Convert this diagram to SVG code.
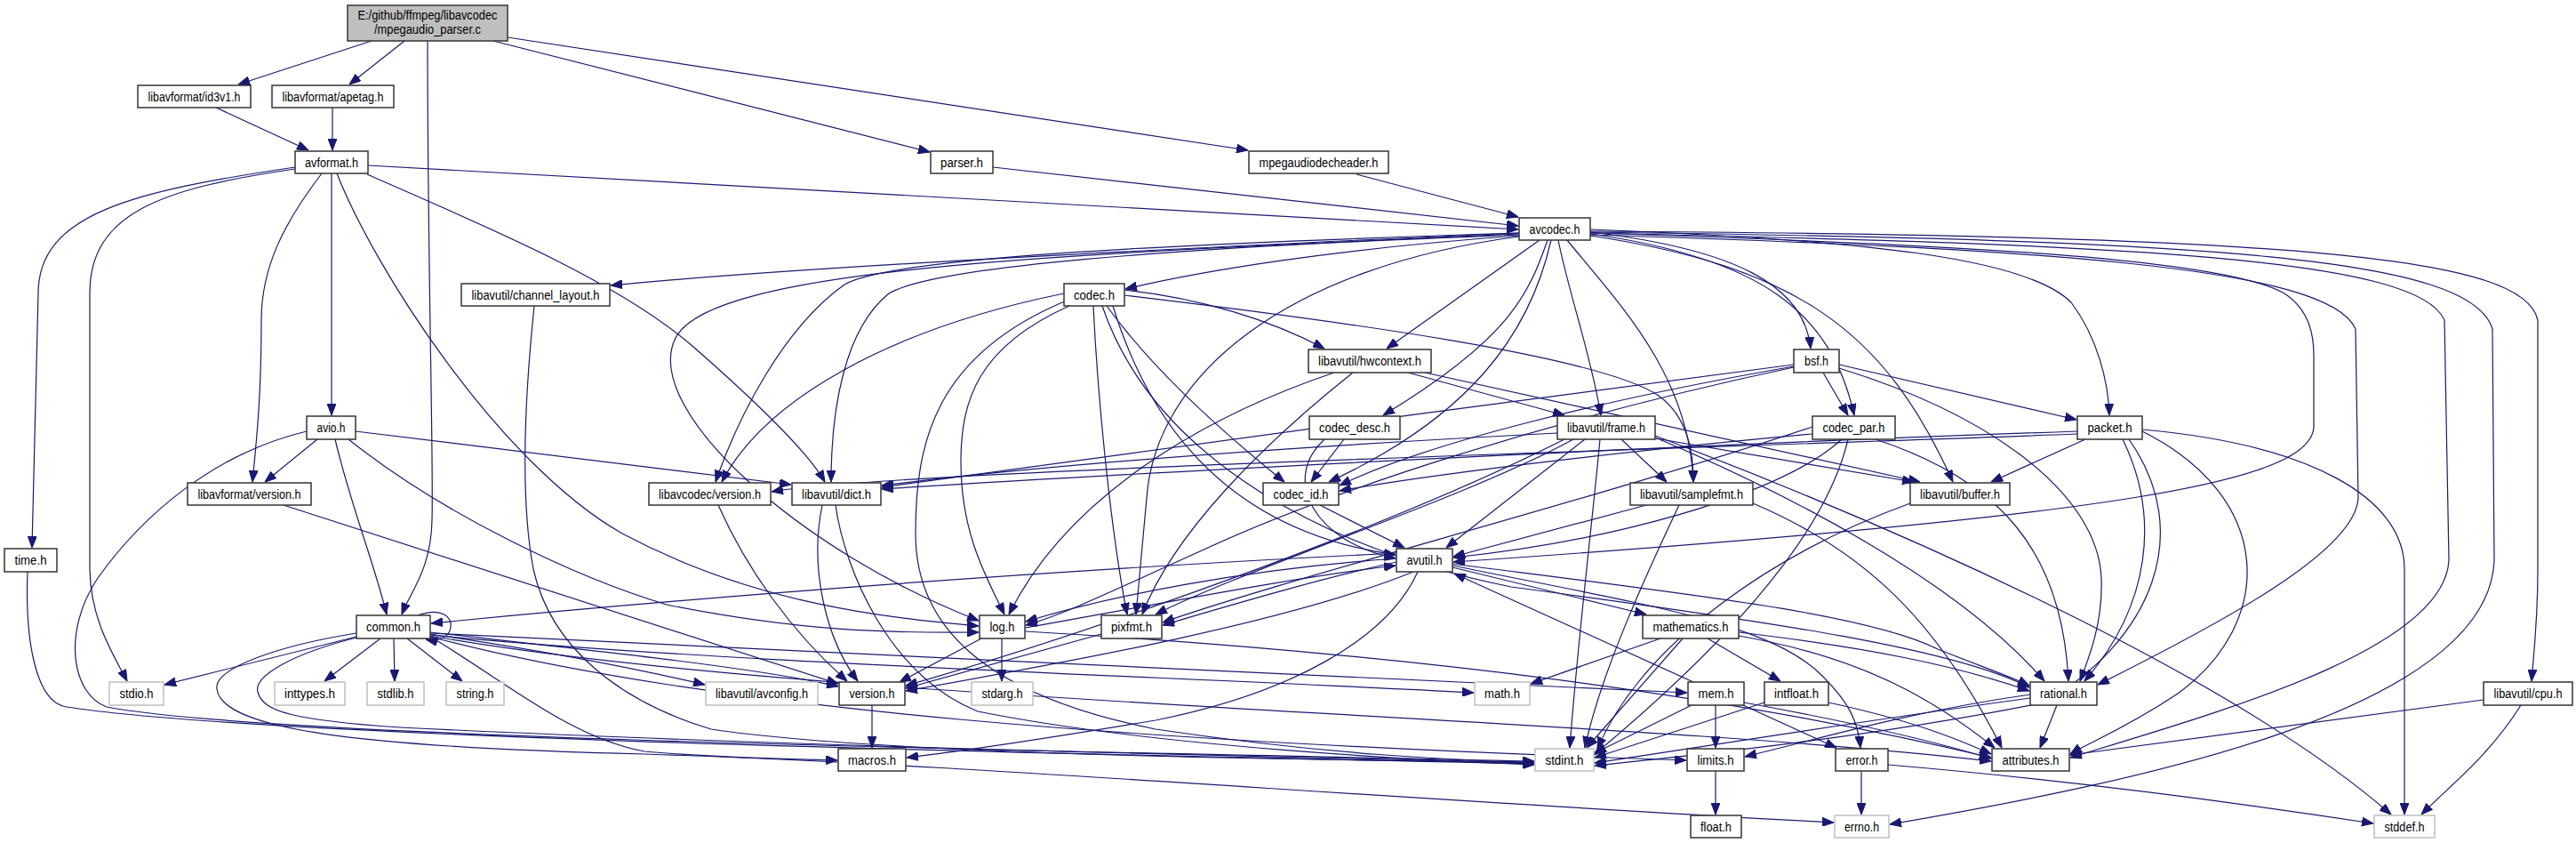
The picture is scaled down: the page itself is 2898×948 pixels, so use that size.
<svg xmlns="http://www.w3.org/2000/svg" width="2898" height="948" viewBox="0 0 2898 948">
<style>
#edges path{fill:none;stroke:#191970;stroke-width:1.2;marker-end:url(#a)}
.n rect{fill:#fff;stroke:#333;stroke-width:1.5}
.g rect{fill:#fff;stroke:#bfbfbf;stroke-width:1.5}
.m rect{fill:#bfbfbf;stroke:#333;stroke-width:1.5}
text{font-family:"Liberation Sans",Arial,sans-serif;font-size:14px;fill:#000;text-anchor:middle}
</style>
<defs>
<marker id="a" markerUnits="userSpaceOnUse" markerWidth="13" markerHeight="10" viewBox="0 0 13 10" refX="13" refY="5" orient="auto"><path d="M0,0 L13,5 L0,10 z" fill="#191970" stroke="#191970"/></marker>
</defs>
<rect width="2898" height="948" fill="#fff"/>
<g id="edges">
<path d="M418,46 L268,95"/>
<path d="M455,46 L393,95"/>
<path d="M481,46 C481,300 488,520 486,585 C485,640 462,665 452,691"/>
<path d="M555,46 L1046,171"/>
<path d="M571,42 L1404,169"/>
<path d="M243,121 L347,169"/>
<path d="M374,121 L374,169"/>
<path d="M1117,188 L1708,254"/>
<path d="M1526,196 L1708,244"/>
<path d="M414,186 L1708,258"/>
<path d="M332,188 C150,215 43,240 43,330 L36,616"/>
<path d="M332,190 C180,212 101,240 101,330 L101,640 C102,700 130,740 143,766"/>
<path d="M362,195 C320,250 294,300 294,360 C294,450 288,500 284,542"/>
<path d="M373,195 L373,467"/>
<path d="M379,195 C420,300 560,520 700,600 C850,680 1000,695 1101,704"/>
<path d="M413,196 C560,260 700,320 780,390 C860,460 910,510 928,542"/>
<path d="M345,485 C240,510 160,580 110,650 C70,710 80,780 120,795 C300,830 1200,845 1726,856"/>
<path d="M357,494 L298,542"/>
<path d="M377,494 C395,570 420,630 435,691"/>
<path d="M392,494 C500,580 650,650 750,680 C900,710 1000,712 1101,711"/>
<path d="M400,485 L890,545"/>
<path d="M31,643 C28,720 40,790 75,795 C300,830 1200,848 1726,859"/>
<path d="M601,344 C590,450 585,560 600,640 C620,730 700,790 800,820 C1000,850 1500,855 1726,857"/>
<path d="M319,568 L943,769"/>
<path d="M470,692 C498,682 509,695 507,705 C506,716 494,722 479,719"/>
<path d="M401,716 L185,770"/>
<path d="M428,718 L365,766"/>
<path d="M443,718 L444,766"/>
<path d="M458,718 L520,766"/>
<path d="M401,712 C320,725 240,750 244,775 C250,820 400,840 725,848 C1100,860 1500,895 2063,925"/>
<path d="M401,717 C330,735 285,760 290,778 C295,800 330,810 450,818 C900,840 1400,850 1726,858"/>
<path d="M484,713 C600,730 700,748 793,770"/>
<path d="M484,711 C650,730 850,750 943,772"/>
<path d="M484,716 C560,760 640,830 725,845 C800,852 900,854 942,855"/>
<path d="M484,714 C800,745 1300,760 1658,779"/>
<path d="M484,712 C900,733 1500,760 1898,779"/>
<path d="M484,716 C800,800 1300,835 1897,855"/>
<path d="M484,715 C900,790 1800,805 2240,856"/>
<path d="M1127,718 L1127,766"/>
<path d="M1104,718 L1012,767"/>
<path d="M1153,706 C1300,680 1450,650 1570,636"/>
<path d="M1153,710 C1500,730 1900,770 2240,852"/>
<path d="M1239,713 L1019,774"/>
<path d="M981,793 L981,841"/>
<path d="M1571,622 C1200,640 800,670 485,701"/>
<path d="M1571,628 C1400,640 1250,670 1154,699"/>
<path d="M1571,632 C1480,652 1380,682 1308,703"/>
<path d="M1590,643 C1450,700 1200,745 1019,777"/>
<path d="M1595,643 C1560,720 1450,780 1300,810 C1150,835 1080,845 1020,852"/>
<path d="M1634,638 L1852,691"/>
<path d="M1634,636 C1850,680 1990,700 2050,760 C2080,790 2090,810 2093,841"/>
<path d="M1634,634 C1900,668 2100,690 2180,730 C2230,750 2260,760 2283,771"/>
<path d="M1868,718 L1722,769"/>
<path d="M1893,718 L1785,841"/>
<path d="M1921,718 L2003,766"/>
<path d="M1956,711 C2100,728 2200,748 2283,777"/>
<path d="M1956,715 C2100,740 2180,790 2244,841"/>
<path d="M1905,767 L1636,645"/>
<path d="M1930,793 L1930,841"/>
<path d="M1903,793 L1794,847"/>
<path d="M1961,793 L2066,841"/>
<path d="M1962,790 C2100,815 2180,835 2240,853"/>
<path d="M1985,790 L1794,852"/>
<path d="M2057,790 C2150,810 2200,830 2240,848"/>
<path d="M2284,785 C2100,810 1900,842 1794,858"/>
<path d="M2284,781 C2150,800 2050,830 1963,851"/>
<path d="M2314,793 L2295,841"/>
<path d="M1930,867 L1930,916"/>
<path d="M2094,867 L2094,916"/>
<path d="M2124,860 C2300,875 2500,900 2670,926"/>
<path d="M2794,787 L2329,849"/>
<path d="M2836,793 C2800,850 2760,880 2724,916"/>
<path d="M2149,566 C2000,620 1850,720 1797,842"/>
<path d="M940,568 C950,640 1000,760 1100,800 C1300,840 1600,855 1726,860"/>
<path d="M925,568 C910,640 930,720 965,766"/>
<path d="M808,568 C840,640 890,710 953,766"/>
<path d="M1824,494 L1875,542"/>
<path d="M1862,493 L2153,542"/>
<path d="M1752,487 C1500,500 1200,520 992,546"/>
<path d="M1783,494 L1627,616"/>
<path d="M1770,494 C1650,560 1400,640 1300,691"/>
<path d="M1760,494 C1550,600 1200,720 1019,771"/>
<path d="M1800,494 C1790,600 1775,720 1766,841"/>
<path d="M1862,490 C2100,580 2500,750 2690,916"/>
<path d="M1862,492 C2000,550 2200,650 2300,766"/>
<path d="M1852,568 L1635,626"/>
<path d="M1889,568 C1850,650 1800,760 1783,841"/>
<path d="M1972,566 C2100,620 2180,700 2252,841"/>
<path d="M1584,419 L1760,467"/>
<path d="M1603,419 L2160,542"/>
<path d="M1501,419 C1350,470 1200,560 1135,691"/>
<path d="M1522,419 C1420,500 1320,600 1285,691"/>
<path d="M1512,494 L1475,542"/>
<path d="M1490,494 C1440,540 1480,610 1570,628"/>
<path d="M1485,568 L1580,616"/>
<path d="M2039,488 C1800,510 1600,535 1507,552"/>
<path d="M2072,494 C2000,560 1800,610 1635,627"/>
<path d="M2079,494 C2050,620 1900,760 1793,849"/>
<path d="M2110,494 C2250,540 2320,620 2327,766"/>
<path d="M2039,480 C1800,560 1450,650 1308,700"/>
<path d="M2051,419 L2079,467"/>
<path d="M2069,410 L2336,472"/>
<path d="M2069,414 C2250,470 2360,560 2364,650 C2366,700 2350,740 2340,766"/>
<path d="M2018,410 C1700,450 1200,520 992,548"/>
<path d="M2018,413 C1750,470 1500,550 1350,620 C1250,665 1200,690 1154,703"/>
<path d="M2018,412 C1800,450 1600,500 1507,546"/>
<path d="M2346,494 L2240,542"/>
<path d="M2337,485 C1900,500 1300,530 992,550"/>
<path d="M2337,488 C1800,508 1000,530 868,553"/>
<path d="M2388,494 C2430,580 2420,680 2345,766"/>
<path d="M2395,494 C2470,600 2420,720 2300,790 C2100,830 1900,850 1794,861"/>
<path d="M2410,485 C2560,560 2560,700 2450,780 C2390,820 2350,835 2329,848"/>
<path d="M2410,483 C2600,500 2705,560 2705,640 L2705,916"/>
<path d="M1709,262 C1300,280 900,300 687,321"/>
<path d="M1709,265 C1500,280 1350,305 1266,325"/>
<path d="M1709,262 C1300,275 1000,290 950,320 C880,370 830,470 805,542"/>
<path d="M1709,263 C1300,280 1050,300 1000,330 C950,370 935,460 935,542"/>
<path d="M1709,264 C1200,285 800,300 760,380 C720,460 900,620 1101,698"/>
<path d="M1709,266 C1450,300 1300,420 1290,560 L1278,691"/>
<path d="M1732,270 L1560,392"/>
<path d="M1741,270 C1720,330 1700,380 1556,467"/>
<path d="M1745,270 C1720,380 1650,470 1495,542"/>
<path d="M1753,270 C1765,330 1790,400 1801,467"/>
<path d="M1763,270 C1820,340 1900,420 1905,542"/>
<path d="M1789,261 C1950,280 2030,320 2037,392"/>
<path d="M1789,263 C1980,290 2060,350 2086,467"/>
<path d="M1789,265 C2020,300 2120,370 2197,542"/>
<path d="M1789,258 C2100,270 2280,290 2330,340 C2360,380 2372,430 2373,467"/>
<path d="M1789,262 C2200,275 2500,290 2570,330 C2600,350 2603,380 2603,400 L2603,480 C2600,540 2400,580 1635,632"/>
<path d="M1789,264 C2300,280 2620,300 2650,370 L2653,560 C2650,620 2500,700 2360,770"/>
<path d="M1789,262 C2400,275 2720,290 2750,360 L2755,630 C2750,730 2500,800 2329,852"/>
<path d="M1789,261 C2500,270 2780,290 2804,370 L2806,630 C2800,800 2400,880 2126,927"/>
<path d="M1789,260 C2600,265 2840,290 2855,360 L2855,640 C2855,700 2850,740 2848,766"/>
<path d="M1265,326 C1350,335 1430,360 1490,392"/>
<path d="M1265,332 C1500,360 1800,400 1866,445 C1900,470 1905,510 1905,542"/>
<path d="M1197,330 C1000,370 860,450 812,542"/>
<path d="M1200,338 C1050,400 1030,500 1030,600 C1030,700 1100,780 1300,820 C1500,850 1650,855 1726,858"/>
<path d="M1203,344 C1100,390 1081,450 1081,520 C1081,600 1110,650 1130,691"/>
<path d="M1252,344 C1300,500 1400,600 1570,624"/>
<path d="M1230,344 C1235,450 1250,600 1268,691"/>
<path d="M1245,344 C1300,420 1380,490 1445,542"/>
<path d="M1240,344 C1300,520 1500,620 1700,660 C2000,700 2200,730 2283,773"/>
</g>
<g id="node-main" class="m"><rect x="391" y="6" width="180" height="40"/><text x="481" y="22" textLength="157" lengthAdjust="spacingAndGlyphs">E:/github/ffmpeg/libavcodec</text><text x="481" y="38" textLength="120" lengthAdjust="spacingAndGlyphs">/mpegaudio_parser.c</text></g>
<g id="node-id3v1" class="n"><rect x="155" y="96" width="127" height="25"/><text x="218.5" y="113.5" textLength="104" lengthAdjust="spacingAndGlyphs">libavformat/id3v1.h</text></g>
<g id="node-apetag" class="n"><rect x="306" y="96" width="137" height="25"/><text x="374.5" y="113.5" textLength="114" lengthAdjust="spacingAndGlyphs">libavformat/apetag.h</text></g>
<g id="node-avformat" class="n"><rect x="332" y="170" width="82" height="25"/><text x="373" y="187.5" textLength="60" lengthAdjust="spacingAndGlyphs">avformat.h</text></g>
<g id="node-parser" class="n"><rect x="1047" y="170" width="70" height="25"/><text x="1082" y="187.5" textLength="48" lengthAdjust="spacingAndGlyphs">parser.h</text></g>
<g id="node-mpegaudiodecheader" class="n"><rect x="1405" y="170" width="157" height="25"/><text x="1483.5" y="187.5" textLength="134" lengthAdjust="spacingAndGlyphs">mpegaudiodecheader.h</text></g>
<g id="node-avcodec" class="n"><rect x="1709" y="245" width="80" height="25"/><text x="1749" y="262.5" textLength="57" lengthAdjust="spacingAndGlyphs">avcodec.h</text></g>
<g id="node-channel_layout" class="n"><rect x="519" y="319" width="167" height="25"/><text x="602.5" y="336.5" textLength="144" lengthAdjust="spacingAndGlyphs">libavutil/channel_layout.h</text></g>
<g id="node-codec" class="n"><rect x="1197" y="319" width="68" height="25"/><text x="1231" y="336.5" textLength="46" lengthAdjust="spacingAndGlyphs">codec.h</text></g>
<g id="node-hwcontext" class="n"><rect x="1472" y="393" width="138" height="26"/><text x="1541" y="411" textLength="116" lengthAdjust="spacingAndGlyphs">libavutil/hwcontext.h</text></g>
<g id="node-bsf" class="n"><rect x="2018" y="393" width="51" height="26"/><text x="2043.5" y="411" textLength="27" lengthAdjust="spacingAndGlyphs">bsf.h</text></g>
<g id="node-avio" class="n"><rect x="345" y="468" width="55" height="26"/><text x="372.5" y="486" textLength="32" lengthAdjust="spacingAndGlyphs">avio.h</text></g>
<g id="node-codec_desc" class="n"><rect x="1473" y="468" width="102" height="26"/><text x="1524" y="486" textLength="80" lengthAdjust="spacingAndGlyphs">codec_desc.h</text></g>
<g id="node-frame" class="n"><rect x="1752" y="468" width="110" height="26"/><text x="1807" y="486" textLength="88" lengthAdjust="spacingAndGlyphs">libavutil/frame.h</text></g>
<g id="node-codec_par" class="n"><rect x="2039" y="468" width="93" height="26"/><text x="2085.5" y="486" textLength="70" lengthAdjust="spacingAndGlyphs">codec_par.h</text></g>
<g id="node-packet" class="n"><rect x="2337" y="468" width="73" height="26"/><text x="2373.5" y="486" textLength="50" lengthAdjust="spacingAndGlyphs">packet.h</text></g>
<g id="node-lavf_version" class="n"><rect x="211" y="543" width="139" height="25"/><text x="280.5" y="560.5" textLength="116" lengthAdjust="spacingAndGlyphs">libavformat/version.h</text></g>
<g id="node-lavc_version" class="n"><rect x="730" y="543" width="137" height="25"/><text x="798.5" y="560.5" textLength="115" lengthAdjust="spacingAndGlyphs">libavcodec/version.h</text></g>
<g id="node-dict" class="n"><rect x="891" y="543" width="100" height="25"/><text x="941" y="560.5" textLength="78" lengthAdjust="spacingAndGlyphs">libavutil/dict.h</text></g>
<g id="node-codec_id" class="n"><rect x="1421" y="543" width="85" height="25"/><text x="1463.5" y="560.5" textLength="62" lengthAdjust="spacingAndGlyphs">codec_id.h</text></g>
<g id="node-samplefmt" class="n"><rect x="1834" y="543" width="138" height="25"/><text x="1903" y="560.5" textLength="116" lengthAdjust="spacingAndGlyphs">libavutil/samplefmt.h</text></g>
<g id="node-buffer" class="n"><rect x="2149" y="543" width="112" height="25"/><text x="2205" y="560.5" textLength="90" lengthAdjust="spacingAndGlyphs">libavutil/buffer.h</text></g>
<g id="node-time" class="n"><rect x="5" y="617" width="59" height="26"/><text x="34.5" y="635" textLength="36" lengthAdjust="spacingAndGlyphs">time.h</text></g>
<g id="node-avutil" class="n"><rect x="1571" y="617" width="63" height="26"/><text x="1602.5" y="635" textLength="40" lengthAdjust="spacingAndGlyphs">avutil.h</text></g>
<g id="node-common" class="n"><rect x="401" y="692" width="83" height="26"/><text x="442.5" y="710" textLength="61" lengthAdjust="spacingAndGlyphs">common.h</text></g>
<g id="node-log" class="n"><rect x="1102" y="692" width="51" height="26"/><text x="1127.5" y="710" textLength="28" lengthAdjust="spacingAndGlyphs">log.h</text></g>
<g id="node-pixfmt" class="n"><rect x="1239" y="692" width="68" height="26"/><text x="1273" y="710" textLength="46" lengthAdjust="spacingAndGlyphs">pixfmt.h</text></g>
<g id="node-mathematics" class="n"><rect x="1848" y="692" width="108" height="26"/><text x="1902" y="710" textLength="85" lengthAdjust="spacingAndGlyphs">mathematics.h</text></g>
<g id="node-stdio" class="g"><rect x="123" y="767" width="61" height="26"/><text x="153.5" y="785" textLength="38" lengthAdjust="spacingAndGlyphs">stdio.h</text></g>
<g id="node-inttypes" class="g"><rect x="309" y="767" width="79" height="26"/><text x="348.5" y="785" textLength="57" lengthAdjust="spacingAndGlyphs">inttypes.h</text></g>
<g id="node-stdlib" class="g"><rect x="413" y="767" width="64" height="26"/><text x="445" y="785" textLength="41" lengthAdjust="spacingAndGlyphs">stdlib.h</text></g>
<g id="node-string" class="g"><rect x="502" y="767" width="65" height="26"/><text x="534.5" y="785" textLength="42" lengthAdjust="spacingAndGlyphs">string.h</text></g>
<g id="node-avconfig" class="g"><rect x="794" y="767" width="126" height="26"/><text x="857" y="785" textLength="104" lengthAdjust="spacingAndGlyphs">libavutil/avconfig.h</text></g>
<g id="node-version" class="n"><rect x="944" y="767" width="74" height="26"/><text x="981" y="785" textLength="51" lengthAdjust="spacingAndGlyphs">version.h</text></g>
<g id="node-stdarg" class="g"><rect x="1093" y="767" width="69" height="26"/><text x="1127.5" y="785" textLength="46" lengthAdjust="spacingAndGlyphs">stdarg.h</text></g>
<g id="node-math" class="g"><rect x="1659" y="767" width="62" height="26"/><text x="1690" y="785" textLength="40" lengthAdjust="spacingAndGlyphs">math.h</text></g>
<g id="node-mem" class="n"><rect x="1899" y="767" width="63" height="26"/><text x="1930.5" y="785" textLength="40" lengthAdjust="spacingAndGlyphs">mem.h</text></g>
<g id="node-intfloat" class="n"><rect x="1985" y="767" width="72" height="26"/><text x="2021" y="785" textLength="50" lengthAdjust="spacingAndGlyphs">intfloat.h</text></g>
<g id="node-rational" class="n"><rect x="2284" y="767" width="75" height="26"/><text x="2321.5" y="785" textLength="53" lengthAdjust="spacingAndGlyphs">rational.h</text></g>
<g id="node-cpu" class="n"><rect x="2794" y="767" width="100" height="26"/><text x="2844" y="785" textLength="77" lengthAdjust="spacingAndGlyphs">libavutil/cpu.h</text></g>
<g id="node-macros" class="n"><rect x="943" y="842" width="76" height="25"/><text x="981" y="859.5" textLength="54" lengthAdjust="spacingAndGlyphs">macros.h</text></g>
<g id="node-stdint" class="g"><rect x="1727" y="842" width="66" height="25"/><text x="1760" y="859.5" textLength="43" lengthAdjust="spacingAndGlyphs">stdint.h</text></g>
<g id="node-limits" class="n"><rect x="1898" y="842" width="64" height="25"/><text x="1930" y="859.5" textLength="41" lengthAdjust="spacingAndGlyphs">limits.h</text></g>
<g id="node-error" class="n"><rect x="2065" y="842" width="59" height="25"/><text x="2094.5" y="859.5" textLength="36" lengthAdjust="spacingAndGlyphs">error.h</text></g>
<g id="node-attributes" class="n"><rect x="2241" y="842" width="87" height="25"/><text x="2284.5" y="859.5" textLength="64" lengthAdjust="spacingAndGlyphs">attributes.h</text></g>
<g id="node-float" class="n"><rect x="1902" y="917" width="57" height="25"/><text x="1930.5" y="934.5" textLength="35" lengthAdjust="spacingAndGlyphs">float.h</text></g>
<g id="node-errno" class="g"><rect x="2064" y="917" width="61" height="25"/><text x="2094.5" y="934.5" textLength="39" lengthAdjust="spacingAndGlyphs">errno.h</text></g>
<g id="node-stddef" class="g"><rect x="2671" y="917" width="68" height="25"/><text x="2705" y="934.5" textLength="45" lengthAdjust="spacingAndGlyphs">stddef.h</text></g>
</svg>
